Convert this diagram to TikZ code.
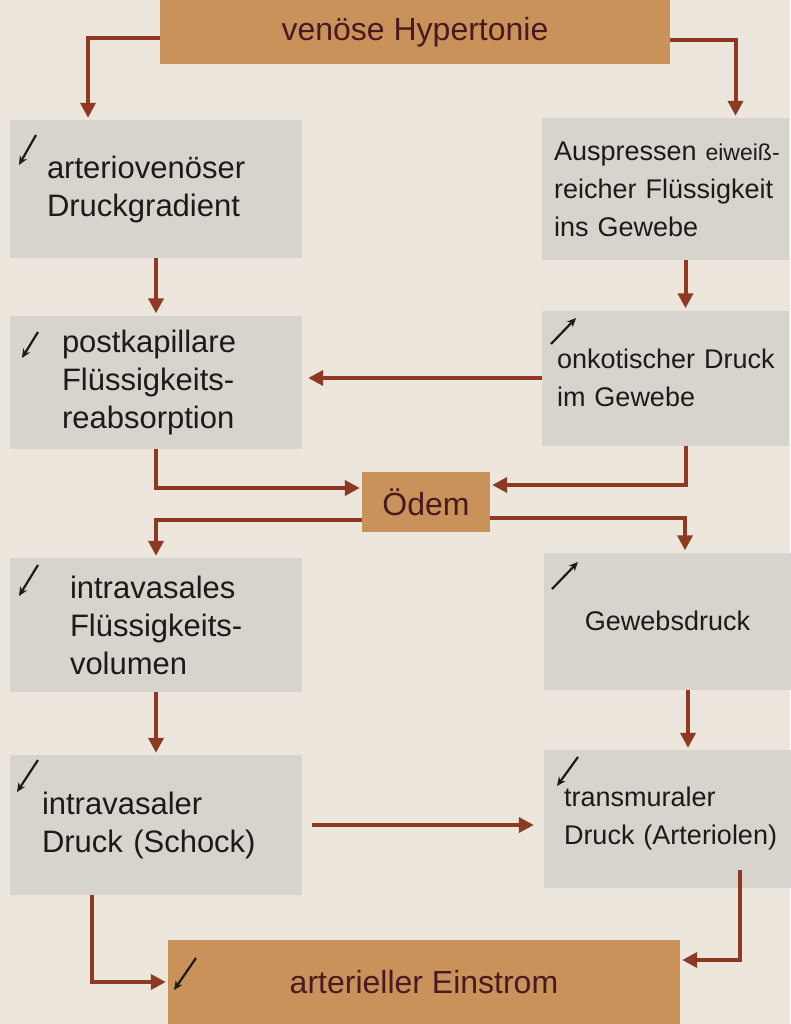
\documentclass[tikz,border=0pt]{standalone}
\usepackage{fontspec}
\setmainfont{Liberation Sans}
\usetikzlibrary{arrows.meta}
\definecolor{paper}{HTML}{ECE6DC}
\definecolor{boxgrey}{HTML}{D7D3CD}
\definecolor{tanbox}{HTML}{C9925A}
\definecolor{flowbrown}{HTML}{8E3A22}
\definecolor{ink}{HTML}{1E1A1A}
\definecolor{maroon}{HTML}{4A1A22}
\tikzset{
  greybox/.style={fill=boxgrey, text=ink, align=left, inner ysep=0pt},
  leftbox/.style={greybox, minimum width=292pt, font=\fontsize{31}{38}\selectfont},
  rightbox/.style={greybox, minimum width=247pt, font=\fontsize{27}{38}\selectfont},
  tanbox/.style={fill=tanbox, text=maroon, font=\fontsize{32}{38}\selectfont},
  flow/.style={draw=flowbrown, line width=4pt, -{Triangle[length=15pt,width=15pt]}},
  tick/.style={draw=ink, line width=2.2pt, -{Stealth[length=9pt,width=8pt]}}
}
\begin{document}
\begin{tikzpicture}[x=1pt,y=-1pt]
      \fill[paper] (0,0) rectangle (790,1024);
      \useasboundingbox (0,0) rectangle (790,1024);
      %%%%%%%%%%%%%%%%%%%%%%%%%%%%%%%%%%%%%%%%%%%%%%%
      \node[tanbox, minimum width=510pt, minimum height=64pt] at (415,32) (top) {venöse Hypertonie};
      %%%%%%%%%%%%%%%%%%%%%%%%%%%%%%%%%%%%%%%%%%%%%%%
      \node[leftbox, minimum height=138pt, inner xsep=37pt, text width=218pt] at (156,189) (L1) {\mbox{arteriovenöser}\\\mbox{Druckgradient}};
      \node[rightbox, minimum height=142pt, inner xsep=12pt, text width=223pt] at (665.5,189) (R1) {\mbox{Auspressen {\fontsize{23}{38}\selectfont eiweiß-}}\\\mbox{reicher Flüssigkeit}\\\mbox{ins Gewebe}};
      %%%%%%%%%%%%%%%%%%%%%%%%%%%%%%%%%%%%%%%%%%%%%%%
      \node[leftbox, minimum height=133pt, inner xsep=52pt, text width=188pt] at (156,382) (L2) {\mbox{postkapillare}\\\mbox{Flüssigkeits-}\\\mbox{reabsorption}};
      \node[rightbox, minimum height=135pt, inner xsep=15pt, text width=217pt] at (665.5,378) (R2) {\mbox{onkotischer Druck}\\\mbox{im Gewebe}};
      %%%%%%%%%%%%%%%%%%%%%%%%%%%%%%%%%%%%%%%%%%%%%%%
      \node[tanbox, minimum width=128pt, minimum height=60pt] at (426,502) (odem) {Ödem};
      %%%%%%%%%%%%%%%%%%%%%%%%%%%%%%%%%%%%%%%%%%%%%%%
      \node[leftbox, minimum height=134pt, inner xsep=60pt, text width=172pt] at (156,625) (L3) {\mbox{intravasales}\\\mbox{Flüssigkeits-}\\\mbox{volumen}};
      \node[rightbox, minimum height=137pt, inner xsep=15pt, text width=217pt, align=center] at (667.5,621) (R3) {Gewebsdruck};
      %%%%%%%%%%%%%%%%%%%%%%%%%%%%%%%%%%%%%%%%%%%%%%%
      \node[leftbox, minimum height=140pt, inner xsep=32pt, text width=228pt] at (156,825) (L4) {\mbox{intravasaler}\\\mbox{Druck (Schock)}};
      \node[rightbox, minimum height=138pt, inner xsep=20pt, text width=207pt] at (667.5,819) (R4) {\mbox{transmuraler}\\\mbox{Druck (Arteriolen)}};
      %%%%%%%%%%%%%%%%%%%%%%%%%%%%%%%%%%%%%%%%%%%%%%%
      \node[tanbox, minimum width=512pt, minimum height=84pt] at (424,982) (bottom) {\raisebox{-6pt}{arterieller Einstrom}};
      %%%%%%%%%%%%%%%%%%%%%%%%%%%%%%%%%%%%%%%%%%%%%%%
      \draw[tick] (36,135) -- (19,165);
      \draw[tick] (38,332) -- (22,358);
      \draw[tick] (38,565) -- (19,596);
      \draw[tick] (38,760) -- (17,792);
      \draw[tick] (551,344) -- (576,318);
      \draw[tick] (552,589) -- (578,562);
      \draw[tick] (578,757) -- (557,786);
      \draw[tick] (196,958) -- (174,990);
      %%%%%%%%%%%%%%%%%%%%%%%%%%%%%%%%%%%%%%%%%%%%%%%
      \draw[flow, shorten >=2pt] ([yshift=-6pt]top.west) -| ([xshift=-68pt]L1.north);
      \draw[flow, shorten >=2pt] ([yshift=-8pt]top.east) -| ([xshift=70pt]R1.north);
      \draw[flow, shorten >=2pt] (L1.south) -- (L2.north);
      \draw[flow, shorten >=2pt] ([xshift=20pt]R1.south) -- ([xshift=20pt]R2.north);
      \draw[flow, shorten >=6pt] (R2.west) -- (R2.west -| L2.east);
      \draw[flow, shorten >=2pt] (L2.south) |- ([yshift=14pt]odem.west);
      \draw[flow, shorten >=2pt] ([xshift=20pt]R2.south) |- ([yshift=17pt]odem.east);
      \draw[flow, shorten >=2pt] ([yshift=-18pt]odem.west) -| (L3.north);
      \draw[flow, shorten >=2pt] ([yshift=-16pt]odem.east) -| ([xshift=17.5pt]R3.north);
      \draw[flow, shorten >=2pt] (L3.south) -- (L4.north);
      \draw[flow, shorten >=2pt] ([xshift=20.5pt]R3.south) -- ([xshift=20.5pt]R4.north);
      \draw[flow, shorten <=10pt, shorten >=10pt] (L4.east) -- (L4.east -| R4.west);
      \draw[flow, shorten >=2pt] ([xshift=-64pt]L4.south) |- (bottom.west);
      \draw[flow, shorten >=2pt] ([xshift=72.5pt, yshift=18pt]R4.south) |- ([yshift=22pt]bottom.east);
      %%%%%%%%%%%%%%%%%%%%%%%%%%%%%%%%%%%%%%%%%%%%%%%
    \end{tikzpicture}
\end{document}
